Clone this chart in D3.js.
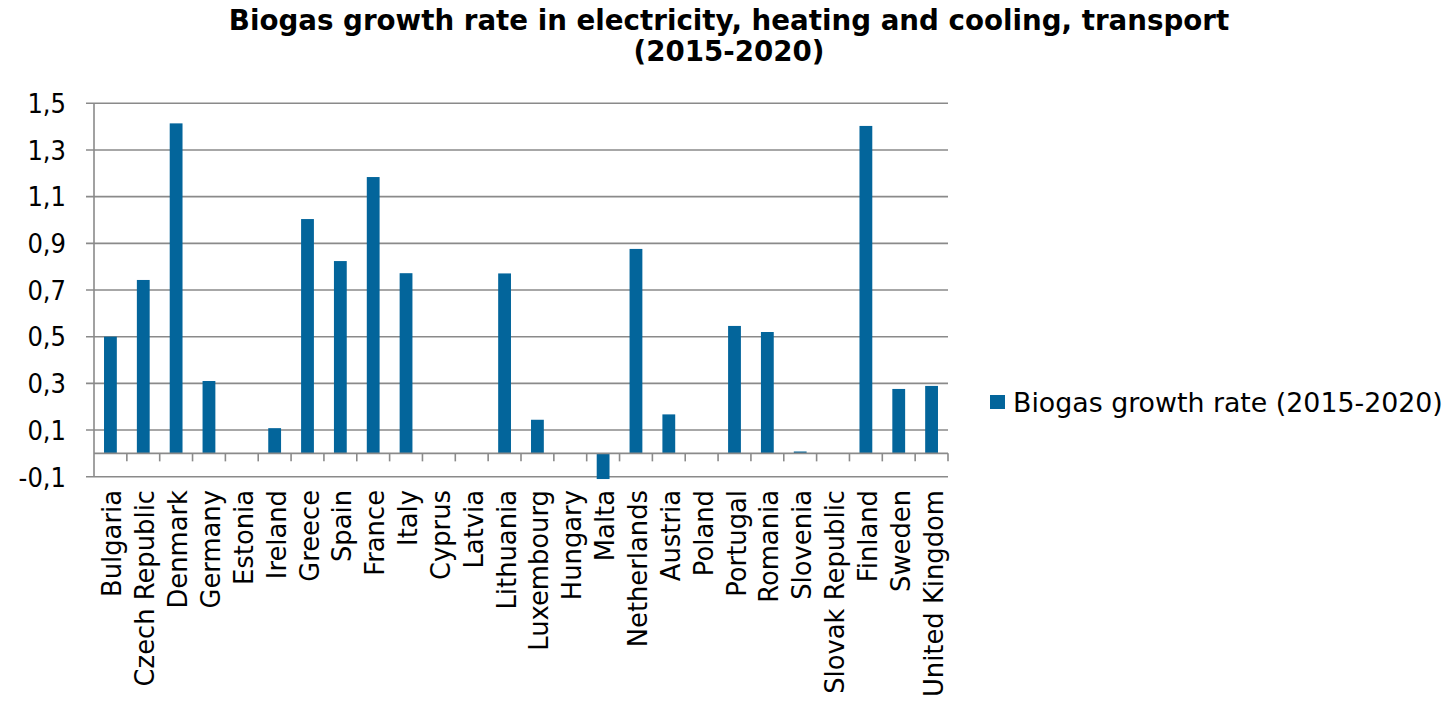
<!DOCTYPE html>
<html>
<head>
<meta charset="utf-8">
<script src="https://cdn.jsdelivr.net/npm/d3@7"></script>
<style>
  html, body { margin: 0; padding: 0; background: #fff; }
  svg { display: block; }
  text { font-family: "DejaVu Sans", Verdana, sans-serif; fill: #000; }
  .tick-label { font-family: "DejaVu Sans Condensed", "DejaVu Sans", sans-serif; }
</style>
</head>
<body>
<svg id="chart" width="1455" height="701"></svg>
<script>
// Countries shown along the category axis
const countries = [
  "Bulgaria", "Czech Republic", "Denmark", "Germany", "Estonia", "Ireland",
  "Greece", "Spain", "France", "Italy", "Cyprus", "Latvia", "Lithuania",
  "Luxembourg", "Hungary", "Malta", "Netherlands", "Austria", "Poland",
  "Portugal", "Romania", "Slovenia", "Slovak Republic", "Finland", "Sweden",
  "United Kingdom"
];

// Biogas growth rate (2015-2020) per country
const growthRate = [
  0.500, 0.743, 1.414, 0.310, 0, 0.108,
  1.004, 0.824, 1.184, 0.772, 0, 0, 0.771,
  0.144, 0, -0.110, 0.876, 0.167, 0,
  0.546, 0.520, 0.008, 0, 1.403, 0.276,
  0.289
];

const yTicks = [-0.1, 0.1, 0.3, 0.5, 0.7, 0.9, 1.1, 1.3, 1.5];
const titleLines = [
  "Biogas growth rate in electricity, heating and cooling, transport",
  "(2015-2020)"
];
const seriesName = "Biogas growth rate (2015-2020)";

const data = countries.map((c, i) => ({ country: c, value: growthRate[i] }));

const svg = d3.select("#chart");
const barColor = "#03659b";
const gridColor = "#8a8a8a";

const plot = { left: 94, right: 948, top: 103.3, bottom: 476.7 };

const x = d3.scaleBand()
  .domain(countries)
  .range([plot.left, plot.right])
  .paddingInner(0)
  .paddingOuter(0);

const y = d3.scaleLinear()
  .domain([-0.1, 1.5])
  .range([plot.bottom, plot.top]);

const fmt = v => d3.format(".1f")(v).replace(".", ",").replace("−", "-");

// Horizontal gridlines with small ticks left of the value axis
svg.append("g")
  .selectAll("line")
  .data(yTicks)
  .join("line")
  .attr("x1", plot.left - 8)
  .attr("x2", plot.right)
  .attr("y1", d => y(d))
  .attr("y2", d => y(d))
  .attr("stroke", gridColor)
  .attr("stroke-width", 1.6);

// Value axis labels
svg.append("g")
  .selectAll("text")
  .data(yTicks)
  .join("text")
  .attr("class", "tick-label")
  .attr("x", 66)
  .attr("y", d => y(d) + 9.8)
  .attr("text-anchor", "end")
  .style("font-size", "27px")
  .text(d => fmt(d));

// Value axis line
svg.append("line")
  .attr("x1", plot.left).attr("x2", plot.left)
  .attr("y1", plot.top).attr("y2", plot.bottom)
  .attr("stroke", gridColor)
  .attr("stroke-width", 1.6);

// Bars
const barW = x.bandwidth() * 0.39;
svg.append("g")
  .selectAll("rect")
  .data(data)
  .join("rect")
  .attr("x", d => x(d.country) + (x.bandwidth() - barW) / 2)
  .attr("y", d => Math.min(y(d.value), y(0)))
  .attr("width", barW)
  .attr("height", d => Math.abs(y(d.value) - y(0)))
  .attr("fill", barColor);

// Category axis at zero with tick marks between categories
svg.append("line")
  .attr("x1", plot.left).attr("x2", plot.right)
  .attr("y1", y(0)).attr("y2", y(0))
  .attr("stroke", gridColor)
  .attr("stroke-width", 1.6);

const boundaries = countries.map(c => x(c) + x.bandwidth());
svg.append("g")
  .selectAll("line")
  .data(boundaries)
  .join("line")
  .attr("x1", d => d).attr("x2", d => d)
  .attr("y1", y(0)).attr("y2", y(0) + 8)
  .attr("stroke", gridColor)
  .attr("stroke-width", 1.6);

// Rotated category labels
svg.append("g")
  .selectAll("text")
  .data(countries)
  .join("text")
  .attr("transform", d => `translate(${x(d) + x.bandwidth() / 2 + 11},490) rotate(-90)`)
  .attr("text-anchor", "end")
  .style("font-size", "25.8px")
  .text(d => d);

// Title
svg.append("g")
  .selectAll("text")
  .data(titleLines)
  .join("text")
  .attr("x", 729)
  .attr("y", (d, i) => 30 + i * 31)
  .attr("text-anchor", "middle")
  .style("font-size", "27.7px")
  .style("font-weight", "bold")
  .text(d => d);

// Legend
const legend = svg.append("g");
legend.append("rect")
  .attr("x", 990).attr("y", 395)
  .attr("width", 15).attr("height", 14)
  .attr("fill", barColor);
legend.append("text")
  .attr("x", 1013).attr("y", 411.5)
  .style("font-size", "26.8px")
  .text(seriesName);
</script>
</body>
</html>
